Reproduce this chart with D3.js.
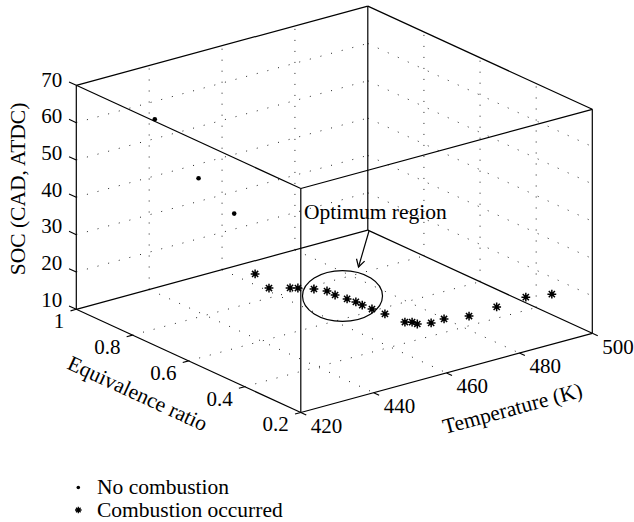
<!DOCTYPE html>
<html><head><meta charset="utf-8">
<script src="https://cdn.jsdelivr.net/npm/d3@7"></script>
<style>
body{margin:0;background:#fff}
svg{display:block}
text{font-family:"Liberation Serif","Times New Roman",serif;fill:#000}
</style>
</head><body><svg id="c" width="634" height="522"></svg>
<script>
// ---- data ----
const phiTicks = [1, 0.8, 0.6, 0.4, 0.2];
const tempTicks = [420, 440, 460, 480, 500];
const socTicks = [10, 20, 30, 40, 50, 60, 70];

// No combustion
const noCombPhi = [0.98, 0.824, 0.697];
const noCombT   = [440, 440, 440];
const noCombSOC = [56.3, 45.9, 40.8];

// Combustion occurred
const combPhi = [0.790, 0.712, 0.694, 0.683, 0.666, 0.639, 0.618, 0.583, 0.566, 0.542, 0.519,
                 0.478, 0.412, 0.402, 0.386, 0.364, 0.366, 0.338, 0.346, 0.346, 0.326];
const combT   = [452.9, 450.7, 455.1, 456.4, 459.5, 461.0, 461.6, 462.2, 463.3, 463.2, 464.1,
                 464.5, 464.9, 466.1, 466.3, 468.4, 472.1, 476.8, 485.0, 493.0, 498.6];
const combSOC = [18, 17.5, 17, 17, 16.5, 16.5, 16, 16, 15.5, 15.5, 15,
                 15, 15, 15, 15, 15.5, 15.5, 16, 16, 16.5, 16.5];

const legendLabels = ["No combustion", "Combustion occurred"];
const annotationText = "Optimum region";

// ---- projection (orthographic view of the 3-D box) ----
const O = {x: 76.3, y: 309.3};   // screen position of (phi=1, T=420, SOC=10)
const U = {x: 224.5, y: 103.2};  // full phi-axis vector
const V = {x: 291.5, y: -79.2};  // full T-axis vector
const H = 224;                   // full SOC-axis height

const sPhi = d3.scaleLinear().domain([1, 0.2]).range([0, 1]);
const sT   = d3.scaleLinear().domain([420, 500]).range([0, 1]);
const sZ   = d3.scaleLinear().domain([10, 70]).range([0, H]);
// SOC tick labels sit on a slightly compressed scale (as in the reference)
const sZlab = d3.scaleLinear().domain([10, 70]).range([299.5, 79.5]);
function P(phi, T, z) {
  const a = sPhi(phi), b = sT(T);
  return [O.x + U.x * a + V.x * b, O.y + U.y * a + V.y * b - sZ(z)];
}
const norm = v => { const l = Math.hypot(v.x, v.y); return {x: v.x / l, y: v.y / l}; };
const uN = norm(U), vN = norm(V);

const svg = d3.select("#c");
const FS = 21.5, FT = 21;

// ---- grid (back planes) ----
const grid = svg.append("g").attr("fill", "none").attr("stroke", "#222")
  .attr("stroke-width", 1).attr("stroke-dasharray", "1 10");
const seg = (g, p, q) => g.append("line").attr("x1", p[0]).attr("y1", p[1]).attr("x2", q[0]).attr("y2", q[1]);
const inT = tempTicks.slice(1, -1), inPhi = phiTicks.slice(1, -1), inZ = socTicks.slice(1, -1);
const [phiMin, phiMax] = [d3.min(phiTicks), d3.max(phiTicks)];
const [tMin, tMax] = [d3.min(tempTicks), d3.max(tempTicks)];
const [zMin, zMax] = [d3.min(socTicks), d3.max(socTicks)];
// wall phi = 1
inT.forEach(T => seg(grid, P(phiMax, T, zMin), P(phiMax, T, zMax)));
inZ.forEach(z => seg(grid, P(phiMax, tMin, z), P(phiMax, tMax, z)));
// wall T = 500
inPhi.forEach(f => seg(grid, P(f, tMax, zMin), P(f, tMax, zMax)));
inZ.forEach(z => seg(grid, P(phiMax, tMax, z), P(phiMin, tMax, z)));
// floor
inT.forEach(T => seg(grid, P(phiMax, T, zMin), P(phiMin, T, zMin)));
inPhi.forEach(f => seg(grid, P(f, tMin, zMin), P(f, tMax, zMin)));

// ---- box ----
const box = svg.append("g").attr("stroke", "#000").attr("stroke-width", 1.2).attr("fill", "none");
const corners = [[phiMax, tMin], [phiMin, tMin], [phiMin, tMax], [phiMax, tMax]];
corners.forEach((c, i) => {
  const n = corners[(i + 1) % 4];
  seg(box, P(c[0], c[1], zMin), P(n[0], n[1], zMin));
  seg(box, P(c[0], c[1], zMax), P(n[0], n[1], zMax));
  seg(box, P(c[0], c[1], zMin), P(c[0], c[1], zMax));
});

// ---- ticks & tick labels ----
const tk = svg.append("g").attr("stroke", "#000").attr("stroke-width", 1.1);
const lab = svg.append("g").attr("font-size", FT);
socTicks.forEach(z => {
  const p = P(phiMax, tMin, z);
  seg(tk, p, [p[0] - uN.x * 8, p[1] - uN.y * 8]);
  lab.append("text").attr("x", p[0] - 14).attr("y", sZlab(z))
    .attr("text-anchor", "end").attr("dominant-baseline", "central").text(z);
});
phiTicks.forEach(f => {
  const p = P(f, tMin, zMin);
  seg(tk, p, [p[0] - vN.x * 6, p[1] - vN.y * 6]);
  lab.append("text").attr("x", p[0] - 12).attr("y", p[1] + 11.8)
    .attr("text-anchor", "end").attr("dominant-baseline", "central").text(d3.format("~g")(f));
});
tempTicks.forEach(T => {
  const p = P(phiMin, T, zMin);
  seg(tk, p, [p[0] + uN.x * 6, p[1] + uN.y * 6]);
  lab.append("text").attr("x", p[0] + 25.7).attr("y", p[1] + 13.2)
    .attr("text-anchor", "middle").attr("dominant-baseline", "central").text(T);
});

// ---- axis titles ----
const angU = Math.atan2(U.y, U.x) * 180 / Math.PI;
const angV = Math.atan2(V.y, V.x) * 180 / Math.PI;
svg.append("text").attr("font-size", FS).attr("text-anchor", "middle").attr("dominant-baseline", "central")
  .attr("transform", "translate(18,189) rotate(-90)").text("SOC (CAD, ATDC)");
svg.append("text").attr("font-size", FS).attr("text-anchor", "middle").attr("dominant-baseline", "central")
  .attr("transform", `translate(137.5,393.5) rotate(${angU})`).text("Equivalence ratio");
svg.append("text").attr("font-size", FS).attr("text-anchor", "middle").attr("dominant-baseline", "central")
  .attr("transform", `translate(512.5,408.5) rotate(${angV})`).text("Temperature (K)");

// ---- markers ----
const starPath = s => `M${-s},0H${s}M0,${-s}V${s}M${-s*0.7},${-s*0.7}L${s*0.7},${s*0.7}M${-s*0.7},${s*0.7}L${s*0.7},${-s*0.7}`;
function star(g, x, y, s, w) {
  g.append("path").attr("d", starPath(s)).attr("transform", `translate(${x},${y})`)
    .attr("stroke", "#000").attr("stroke-width", w).attr("fill", "none");
  g.append("circle").attr("cx", x).attr("cy", y).attr("r", s * 0.42).attr("fill", "#000");
}
const mk = svg.append("g");
combPhi.forEach((f, i) => {
  const p = P(f, combT[i], combSOC[i]);
  star(mk, p[0], p[1], 4.4, 1.5);
});
noCombPhi.forEach((f, i) => {
  const p = P(f, noCombT[i], noCombSOC[i]);
  mk.append("circle").attr("cx", p[0]).attr("cy", p[1]).attr("r", 2.3).attr("fill", "#000");
});

// ---- annotation ----
const ann = svg.append("g").attr("stroke", "#000").attr("fill", "none").attr("stroke-width", 1.2);
ann.append("ellipse").attr("cx", 342.5).attr("cy", 296).attr("rx", 40).attr("ry", 25.3);
const a0 = [369, 231], a1 = [358.5, 267];
ann.append("line").attr("x1", a0[0]).attr("y1", a0[1]).attr("x2", a1[0]).attr("y2", a1[1]);
{
  const d = norm({x: a1[0] - a0[0], y: a1[1] - a0[1]});
  const L = 8.5, ang = 0.52;
  const w = s => {
    const c = Math.cos(s * ang), sn = Math.sin(s * ang);
    return [a1[0] - L * (d.x * c - d.y * sn), a1[1] - L * (d.x * sn + d.y * c)];
  };
  const w1 = w(1), w2 = w(-1);
  ann.append("path").attr("d", `M${w1[0]},${w1[1]}L${a1[0]},${a1[1]}L${w2[0]},${w2[1]}`);
}
svg.append("text").attr("font-size", FS).attr("x", 304).attr("y", 212).attr("dominant-baseline", "central")
  .text(annotationText);

// ---- legend ----
const lg = svg.append("g").attr("font-size", FS);
lg.append("circle").attr("cx", 78.3).attr("cy", 487.5).attr("r", 1.8).attr("fill", "#000");
star(lg, 78.3, 510, 3.3, 1.3);
legendLabels.forEach((t, i) => {
  lg.append("text").attr("x", 97).attr("y", 487 + i * 23).attr("dominant-baseline", "central").text(t);
});
</script>
</body></html>
